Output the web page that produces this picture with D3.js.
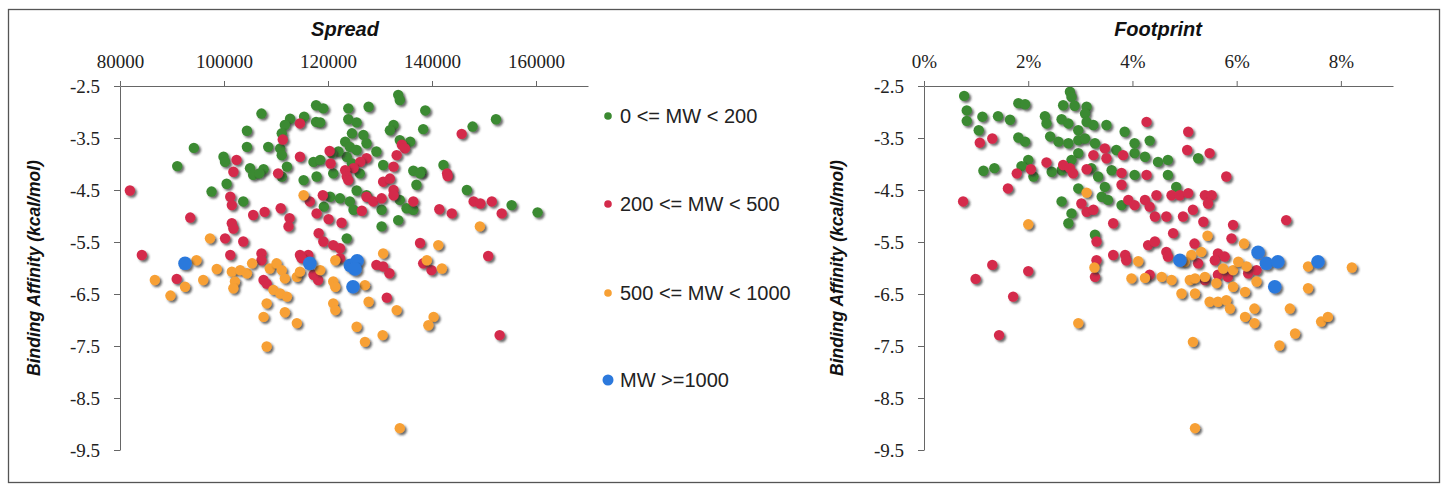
<!DOCTYPE html>
<html>
<head>
<meta charset="utf-8">
<script src="https://cdn.jsdelivr.net/npm/d3@7"></script>
<style>
  body { margin: 0; background: #fff; }
  svg { display: block; }
</style>
</head>
<body>
<div class="chart"></div>
<script>
// series names and colours of the legend
const seriesNames = ["0 <= MW < 200", "200 <= MW < 500", "500 <= MW < 1000", "MW >=1000"]
const seriesColors = ["#3b8a31", "#d42b4b", "#f7a034", "#2c79dc"]

// axis ticks
const yTicks = [-2.5, -3.5, -4.5, -5.5, -6.5, -7.5, -8.5, -9.5]
const spreadTicks = [80000, 100000, 120000, 140000, 160000]
const footTicks = [0, 2, 4, 6, 8]

// Spread panel: [spread, binding affinity]
const spreadGreen = [
  [133500,-2.67],[133800,-2.77],[117700,-2.87],[119100,-2.93],[123900,-2.93],[127800,-2.90],[107200,-3.03],
  [138700,-2.97],[152300,-3.14],[112700,-3.13],[111700,-3.25],[115400,-3.09],[117700,-3.19],[118500,-3.20],
  [123900,-3.14],[125500,-3.20],[132600,-3.25],[131900,-3.35],[138300,-3.33],[147800,-3.28],[104400,-3.36],
  [111100,-3.41],[124600,-3.41],[126800,-3.44],[123300,-3.57],[124200,-3.67],[125500,-3.73],[123600,-3.86],
  [127400,-3.60],[129300,-3.76],[122000,-3.76],[133800,-3.54],[135800,-3.57],[94200,-3.69],[104400,-3.67],
  [108500,-3.67],[110800,-3.70],[111100,-3.83],[99900,-3.86],[100200,-3.96],[91000,-4.04],[105000,-4.08],
  [107600,-4.10],[112100,-4.05],[117200,-3.96],[118500,-3.92],[130600,-4.02],[136400,-4.13],[138000,-4.15],
  [142200,-4.02],[120700,-3.79],[124600,-3.99],[105600,-4.21],[106800,-4.18],[111100,-4.24],[115300,-4.31],
  [117800,-4.24],[121000,-4.18],[126100,-4.18],[137700,-4.18],[100500,-4.38],[97600,-4.53],[103700,-4.72],
  [120400,-4.63],[122300,-4.66],[124200,-4.72],[125500,-4.51],[127400,-4.60],[124900,-4.88],[130300,-4.88],
  [133800,-4.69],[135100,-4.85],[137000,-4.40],[136400,-4.88],[146700,-4.50],[155300,-4.79],[160300,-4.93],
  [130300,-5.20],[133500,-5.08],[119200,-4.82],[123600,-5.43]
]
const spreadRed = [
  [114600,-3.22],[145700,-3.42],[111300,-3.53],[114600,-3.86],[120300,-3.75],[120500,-3.99],[102400,-3.92],
  [101800,-4.15],[110400,-4.18],[134200,-3.63],[134800,-3.70],[133200,-3.83],[127400,-3.89],[126200,-3.96],
  [124900,-4.08],[123300,-4.12],[132600,-4.05],[142900,-4.18],[81900,-4.51],[101200,-4.63],[101500,-4.79],
  [93500,-5.03],[105600,-4.98],[107800,-4.92],[110900,-4.85],[101500,-5.14],[101800,-5.24],[112600,-5.04],
  [112400,-5.20],[116500,-4.72],[117800,-4.95],[119000,-4.60],[120100,-5.06],[122600,-5.13],[123600,-4.24],
  [123900,-4.31],[127400,-4.63],[128700,-4.72],[130300,-4.66],[130600,-4.34],[131900,-4.28],[132600,-4.50],
  [132600,-4.60],[126500,-4.90],[136400,-4.72],[143000,-4.23],[141400,-4.87],[143800,-4.95],[148000,-4.72],
  [149300,-4.76],[151500,-4.72],[153400,-4.95],[100200,-5.43],[103700,-5.49],[118200,-5.33],[119100,-5.49],
  [121000,-5.56],[122300,-5.62],[137700,-5.52],[84200,-5.75],[101200,-5.75],[107200,-5.72],[114600,-5.75],
  [116200,-5.75],[150800,-5.77],[90900,-6.21],[107200,-5.85],[107600,-6.23],[108200,-6.30],[114900,-5.81],
  [117200,-6.13],[118100,-6.23],[122300,-5.81],[129300,-5.94],[130600,-5.97],[131800,-6.10],[131300,-6.57],
  [138300,-5.91],[139900,-6.04],[153000,-7.29]
]
const spreadOrange = [
  [115300,-4.60],[149200,-5.20],[97300,-5.43],[141200,-5.56],[130600,-5.72],[86700,-6.23],[94700,-5.85],
  [92500,-6.36],[96000,-6.23],[89700,-6.53],[98600,-6.02],[101500,-6.07],[102100,-6.26],[101800,-6.39],
  [103100,-6.04],[104400,-6.10],[105400,-5.91],[108800,-6.01],[110100,-5.91],[111100,-6.04],[111700,-6.20],
  [109500,-6.42],[110800,-6.49],[112100,-6.55],[108200,-6.68],[107600,-6.94],[111700,-6.85],[114000,-7.06],
  [108200,-7.51],[114000,-6.17],[114600,-6.07],[118500,-6.04],[121000,-6.26],[121400,-6.36],[121000,-6.68],
  [121400,-6.81],[121400,-5.85],[127100,-6.33],[127800,-6.65],[133200,-6.81],[125500,-7.13],[127100,-7.42],
  [130500,-7.29],[140300,-6.94],[139300,-7.10],[139000,-5.85],[141900,-6.01],[133800,-9.08]
]
const spreadBlue = [
  [92500,-5.91],[116500,-5.91],[124300,-5.95],[125600,-5.86],[125200,-6.02],[124800,-6.36]
]

// Footprint panel: [footprint %, binding affinity]
const footGreen = [
  [0.77,-2.69],[2.80,-2.61],[2.83,-2.71],[1.81,-2.83],[1.94,-2.85],[2.67,-2.87],[2.89,-2.88],[3.12,-2.90],
  [0.82,-2.97],[0.82,-3.17],[1.12,-3.09],[1.42,-3.08],[1.65,-3.15],[2.32,-3.08],[2.35,-3.22],[2.64,-3.14],
  [2.77,-3.22],[3.09,-3.03],[3.12,-3.19],[3.25,-3.25],[2.96,-3.35],[3.50,-3.25],[3.85,-3.38],[1.05,-3.35],
  [1.81,-3.49],[1.94,-3.57],[2.42,-3.47],[2.58,-3.57],[2.77,-3.60],[2.96,-3.54],[3.09,-3.51],[3.28,-3.60],
  [3.69,-3.73],[4.04,-3.60],[4.33,-3.55],[4.04,-3.79],[4.24,-3.86],[4.49,-3.96],[4.68,-3.92],[5.26,-3.89],
  [2.96,-3.79],[2.83,-3.92],[2.00,-3.92],[1.87,-4.04],[1.14,-4.13],[1.35,-4.08],[2.64,-4.12],[3.21,-4.08],
  [3.60,-4.12],[2.10,-4.24],[2.45,-4.15],[3.34,-4.24],[3.47,-4.44],[3.41,-4.63],[3.53,-4.69],[2.96,-4.47],
  [2.64,-4.72],[2.83,-4.95],[2.77,-5.14],[3.79,-4.79],[4.04,-4.21],[4.68,-4.21],[4.84,-4.44],[3.28,-5.36]
]
const footRed = [
  [4.27,-3.19],[5.07,-3.38],[1.07,-3.59],[1.31,-3.51],[5.05,-3.73],[5.48,-3.79],[3.47,-3.70],[3.25,-3.83],
  [3.50,-3.89],[3.82,-3.83],[2.35,-3.97],[2.67,-4.02],[2.80,-4.08],[2.05,-4.10],[3.12,-4.10],[1.78,-4.18],
  [3.79,-4.17],[4.27,-4.21],[5.80,-4.24],[1.61,-4.47],[2.86,-4.18],[3.79,-4.40],[0.75,-4.72],[3.02,-4.76],
  [3.12,-4.92],[3.25,-4.88],[3.92,-4.69],[4.04,-4.79],[4.24,-4.69],[4.33,-4.82],[4.46,-4.60],[4.43,-5.01],
  [4.65,-5.01],[4.75,-4.60],[4.91,-4.60],[5.07,-4.56],[5.39,-4.60],[5.52,-4.60],[5.45,-4.76],[4.97,-5.01],
  [5.16,-4.88],[5.36,-5.11],[3.63,-5.14],[4.78,-5.33],[5.19,-5.53],[5.93,-5.17],[5.90,-5.43],[6.95,-5.08],
  [3.31,-5.49],[4.30,-5.56],[4.43,-5.49],[4.65,-5.69],[3.63,-5.75],[3.86,-5.75],[5.64,-5.72],[1.31,-5.94],
  [0.99,-6.21],[2.00,-6.06],[1.71,-6.55],[1.44,-7.29],[3.31,-5.85],[3.28,-6.17],[3.88,-5.85],[4.33,-6.13],
  [5.26,-5.91],[5.58,-5.85],[5.77,-5.78],[5.64,-6.13],[5.83,-6.17],[6.22,-6.10],[6.38,-6.04],[5.39,-6.23],
  [4.68,-5.78]
]
const footOrange = [
  [3.12,-4.55],[2.00,-5.16],[5.44,-5.38],[6.14,-5.53],[5.13,-5.75],[5.32,-5.69],[3.27,-5.99],[4.11,-5.87],
  [3.98,-6.20],[4.24,-6.19],[4.56,-6.17],[4.75,-6.23],[5.00,-5.88],[5.10,-6.23],[5.20,-6.20],[5.39,-6.17],
  [5.61,-6.29],[5.74,-6.01],[5.93,-6.04],[6.03,-5.88],[6.19,-5.97],[6.38,-6.26],[5.93,-6.36],[6.16,-6.46],
  [4.94,-6.49],[5.20,-6.49],[5.48,-6.65],[5.64,-6.65],[5.80,-6.62],[5.87,-6.78],[6.16,-6.94],[6.34,-6.78],
  [6.34,-7.06],[2.96,-7.06],[5.16,-7.42],[7.02,-6.78],[7.12,-7.26],[6.82,-7.49],[7.37,-5.97],[7.37,-6.39],
  [7.62,-7.03],[7.75,-6.94],[5.20,-9.08],[8.21,-5.99]
]
const footBlue = [
  [4.91,-5.85],[6.41,-5.70],[6.57,-5.91],[6.79,-5.88],[6.73,-6.36],[7.56,-5.88]
]

const width = 1442
const height = 485

const svg = d3.select('.chart').append('svg')
    .attr("width", width)
    .attr("height", height)

// soft drop shadow under each marker
const defs = svg.append("defs")
const filt = defs.append("filter").attr("id", "sh")
    .attr("x", "-60%").attr("y", "-60%").attr("width", "220%").attr("height", "220%")
filt.append("feGaussianBlur").attr("in", "SourceAlpha").attr("stdDeviation", 1.1).attr("result", "b")
filt.append("feOffset").attr("in", "b").attr("dx", 1.7).attr("dy", 1.9).attr("result", "o")
filt.append("feFlood").attr("flood-color", "#2e2e2e").attr("flood-opacity", 0.7)
filt.append("feComposite").attr("in2", "o").attr("operator", "in").attr("result", "s")
filt.append("feGaussianBlur").attr("in", "SourceGraphic").attr("stdDeviation", 0.45).attr("result", "g")
const merge = filt.append("feMerge")
merge.append("feMergeNode").attr("in", "s")
merge.append("feMergeNode").attr("in", "g")

// outer frame
svg.append("rect")
    .attr("x", 8.5).attr("y", 9.5)
    .attr("width", 1431).attr("height", 473)
    .attr("fill", "none")
    .attr("stroke", "#555")
    .attr("stroke-width", 1.3)

const yScale = d3.scaleLinear().domain([-2.5, -9.5]).range([86, 450])

function panel(xScale, ticks, fmt, title, series, titleX, yTitleX) {
    const x0 = xScale.range()[0]

    // points, first series at the back
    series.forEach((data, i) => {
        svg.append("g")
            .selectAll("circle")
            .data(data)
            .join("circle")
            .attr("cx", d => xScale(d[0]))
            .attr("cy", d => yScale(d[1]))
            .attr("r", i === 3 ? 6.8 : 5.2)
            .attr("fill", seriesColors[i])
            .attr("filter", "url(#sh)")
    })

    // top x axis
    const xAxis = d3.axisTop(xScale)
        .tickValues(ticks)
        .tickFormat(fmt)
        .tickSize(5)
        .tickSizeOuter(0)
        .tickPadding(13)
    const gx = svg.append("g")
        .attr("transform", `translate(0, ${yScale(-2.5)})`)
        .call(xAxis)

    // left y axis
    const yAxis = d3.axisLeft(yScale)
        .tickValues(yTicks)
        .tickFormat(d => d.toFixed(1))
        .tickSize(6)
        .tickSizeOuter(0)
        .tickPadding(14)
    const gy = svg.append("g")
        .attr("transform", `translate(${x0}, 0)`)
        .call(yAxis)

    ;[gx, gy].forEach(g => {
        g.selectAll("path, line").attr("stroke", "#666").attr("stroke-width", 1)
        g.selectAll("text")
            .attr("font-family", "'Liberation Serif', 'Times New Roman', serif")
            .attr("font-size", 19)
            .attr("fill", "#222")
    })

    svg.append("text")
        .attr("x", titleX)
        .attr("y", 36)
        .attr("text-anchor", "middle")
        .attr("font-family", "'Liberation Sans', Arial, sans-serif")
        .attr("font-weight", "bold")
        .attr("font-style", "italic")
        .attr("font-size", 20)
        .attr("fill", "#111")
        .text(title)

    svg.append("text")
        .attr("transform", `translate(${yTitleX}, 268) rotate(-90)`)
        .attr("text-anchor", "middle")
        .attr("dominant-baseline", "central")
        .attr("font-family", "'Liberation Sans', Arial, sans-serif")
        .attr("font-weight", "bold")
        .attr("font-style", "italic")
        .attr("font-size", 17.5)
        .attr("fill", "#111")
        .text("Binding  Affinity  (kcal/mol)")
}

const xSpread = d3.scaleLinear().domain([80000, 170000]).range([120, 588])
const xFoot = d3.scaleLinear().domain([0, 9]).range([924, 1393])

panel(xSpread, spreadTicks, d => String(d), "Spread",
      [spreadGreen, spreadRed, spreadOrange, spreadBlue], 345, 34)
panel(xFoot, footTicks, d => d + "%", "Footprint",
      [footGreen, footRed, footOrange, footBlue], 1158, 837)

// legend between the panels
const legendY = [116, 204, 293, 380]
const legend = svg.append("g")
    .selectAll("g")
    .data(seriesNames)
    .join("g")
    .attr("transform", (d, i) => `translate(608, ${legendY[i]})`)

legend.append("circle")
    .attr("r", (d, i) => i === 3 ? 5.5 : 3.8)
    .attr("fill", (d, i) => seriesColors[i])

legend.append("text")
    .attr("x", 12)
    .attr("dominant-baseline", "central")
    .attr("font-family", "'Liberation Sans', Arial, sans-serif")
    .attr("font-size", 20)
    .attr("fill", "#222")
    .text(d => d)
</script>
</body>
</html>
